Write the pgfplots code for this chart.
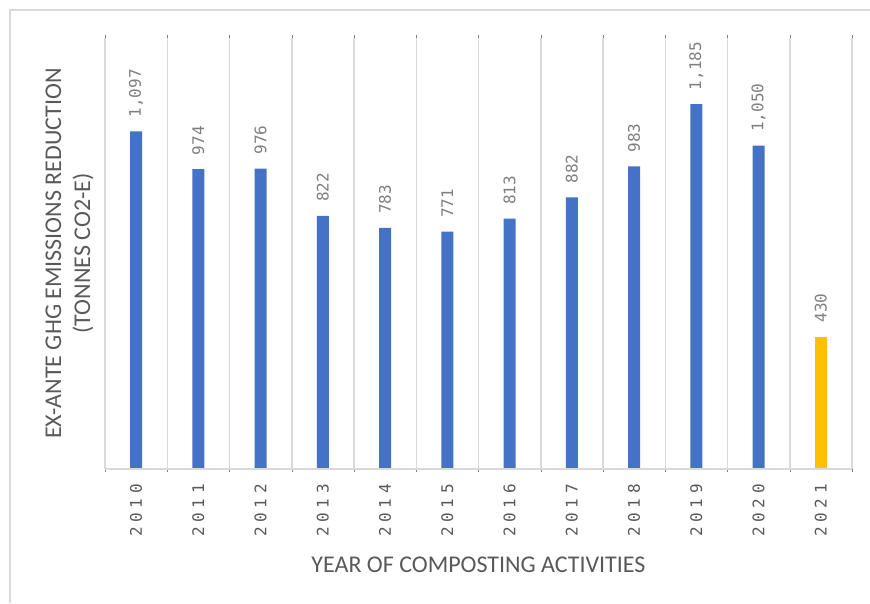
\documentclass[border=0pt]{standalone}
\usepackage{pgfplots}
\pgfplotsset{compat=1.18}
\usepackage{fontspec}
\setmainfont{Carlito}
\newfontfamily\monof{DejaVu Sans Mono}
\newfontfamily\tickf[LetterSpace=30]{DejaVu Sans Mono}
\definecolor{barblue}{HTML}{4472C4}
\definecolor{baryel}{HTML}{FFC000}
\definecolor{gridg}{HTML}{D9D9D9}
\definecolor{txtg}{HTML}{595959}
\definecolor{valg}{HTML}{7F7F7F}
\begin{document}
\begin{tikzpicture}
\useasboundingbox (0pt,0pt) rectangle (870pt,603pt);
\draw[gridg, line width=1.5pt] (10pt,0pt) -- (10pt,593pt) -- (870pt,593pt);
\begin{axis}[
  at={(105pt,134pt)}, anchor=south west,
  scale only axis, width=747pt, height=431pt,
  xmin=-0.5, xmax=11.5, ymin=0, ymax=1400,
  axis line style={draw=none},
  ytick=\empty,
  xtick={0,...,11},
  xticklabels={2010,2011,2012,2013,2014,2015,2016,2017,2018,2019,2020,2021},
  major tick length=0pt,
  minor xtick={-0.5,0.5,...,11.5},
  xminorgrids,
  minor grid style={gridg, line width=1.5pt},
  xticklabel style={rotate=90, anchor=east, inner sep=0pt, outer xsep=15pt, font=\tickf\fontsize{16}{19}\selectfont, text=txtg},
  ybar, bar width=12pt,
  /pgf/number format/assume math mode=true,
  /pgf/number format/1000 sep={,},
  nodes near coords,
  every node near coord/.append style={rotate=90, anchor=west, inner sep=0pt, outer xsep=14pt, font=\monof\fontsize{16}{19}\selectfont, text=valg},
  xlabel={YEAR OF COMPOSTING ACTIVITIES},
  xlabel style={font=\fontsize{24}{28}\selectfont, text=txtg, at={(axis description cs:0.5,0)}, anchor=north, yshift=-84pt},
  ylabel={\fontsize{24}{29}\selectfont\begin{tabular}{@{}c@{}}EX-ANTE GHG EMISSIONS REDUCTION\\(TONNES CO2-E)\end{tabular}},
  ylabel style={text=txtg, at={(axis description cs:0,0.5)}, anchor=south, inner sep=0pt, yshift=6pt},
  clip=false,
]
\addplot[fill=barblue, draw=none, bar shift=0pt] coordinates {
(0,1097) (1,974) (2,976) (3,822) (4,783) (5,771) (6,813) (7,882) (8,983) (9,1185) (10,1050)};
\addplot[fill=baryel, draw=none, bar shift=0pt] coordinates {(11,430)};
\draw[gridg, line width=1.5pt] (axis cs:-0.5,0) -- (axis cs:11.5,0);
\end{axis}
\end{tikzpicture}
\end{document}
